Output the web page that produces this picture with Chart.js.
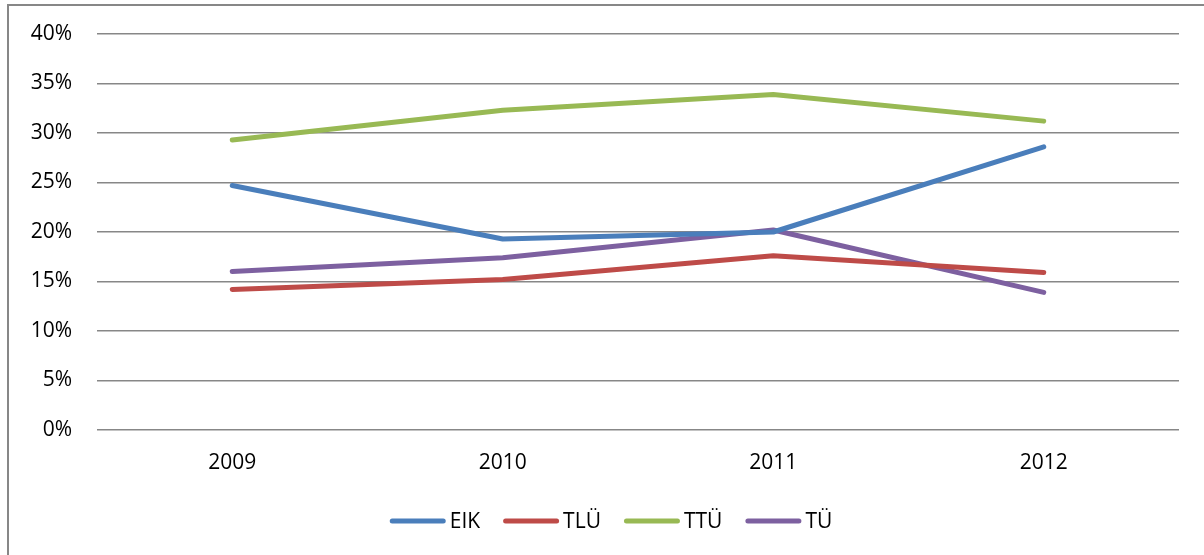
<!DOCTYPE html>
<html>
<head>
<meta charset="utf-8">
<script src="https://cdn.jsdelivr.net/npm/chart.js@4/dist/chart.umd.min.js"></script>
<style>
  html, body { margin: 0; padding: 0; background: #fff; }
  #wrap { width: 1204px; height: 555px; position: relative; }
</style>
</head>
<body>
<div id="wrap"><canvas id="chart"></canvas></div>
<script>
const years = ["2009", "2010", "2011", "2012"];
const eik = [24.7, 19.3, 20.0, 28.6];
const tlu = [14.2, 15.2, 17.6, 15.9];
const ttu = [29.3, 32.3, 33.9, 31.2];
const tu = [16.0, 17.4, 20.2, 13.9];
const seriesNames = ["EIK", "TLÜ", "TTÜ", "TÜ"];
const seriesColors = ["#4a7ebb", "#be4b48", "#98b954", "#7d60a0"];

const FONT = "'Open Sans', sans-serif";
const TEXT = "#000";

function line(i, values) {
  return {
    label: seriesNames[i],
    data: values,
    borderColor: seriesColors[i],
    backgroundColor: seriesColors[i],
    borderWidth: 5,
    borderCapStyle: "round",
    borderJoinStyle: "round",
    fill: false,
    tension: 0,
    pointRadius: 0,
    pointHoverRadius: 0
  };
}

// frame round the chart (right and bottom edges fall outside the window)
const framePlugin = {
  id: "frame",
  beforeDraw(chart) {
    const c = chart.ctx;
    c.save();
    c.fillStyle = "#fff";
    c.fillRect(0, 0, chart.width, chart.height);
    c.strokeStyle = "#878787";
    c.lineWidth = 2;
    c.strokeRect(8, 5, 1300, 1000);
    c.restore();
  }
};

// legend drawn by hand so the line samples sit close to their text
const legendPlugin = {
  id: "lineLegend",
  afterDraw(chart) {
    const c = chart.ctx;
    const sample = 56, gap = 4, itemGap = 23, y = 521, center = 611;
    c.save();
    c.font = "21px " + FONT;
    c.textBaseline = "middle";
    const items = chart.data.datasets.map(ds => ({
      ds, w: sample + gap + c.measureText(ds.label).width
    }));
    const total = items.reduce((s, it) => s + it.w, 0) + itemGap * (items.length - 1);
    let x = center - total / 2;
    items.forEach(it => {
      c.strokeStyle = it.ds.borderColor;
      c.lineWidth = 5;
      c.lineCap = "round";
      c.beginPath();
      c.moveTo(x + 2.5, y);
      c.lineTo(x + sample - 2.5, y);
      c.stroke();
      c.fillStyle = TEXT;
      c.fillText(it.ds.label, x + sample + gap, y + 1);
      x += it.w + itemGap;
    });
    c.restore();
  }
};

new Chart(document.getElementById("chart"), {
  type: "line",
  data: {
    labels: years,
    datasets: [line(0, eik), line(1, tlu), line(2, ttu), line(3, tu)]
  },
  plugins: [framePlugin, legendPlugin],
  options: {
    responsive: true,
    maintainAspectRatio: false,
    animation: false,
    layout: { padding: { left: 0, top: 34, right: 25, bottom: 0 } },
    scales: {
      x: {
        offset: true,
        grid: { display: false, drawTicks: false },
        border: { display: false },
        ticks: { color: TEXT, padding: 20, font: { family: FONT, size: 21 } },
        afterFit: (s) => { s.height = 125; }
      },
      y: {
        min: 0,
        max: 40,
        grid: { color: "#878787", lineWidth: 1.5, drawTicks: false },
        border: { display: false },
        ticks: {
          stepSize: 5,
          color: TEXT,
          padding: 25,
          font: { family: FONT, size: 21 },
          callback: (v) => v + "%"
        },
        afterFit: (s) => {
          s.width = 97;
          s.paddingTop = 0;
          s.paddingBottom = 0;
        }
      }
    },
    plugins: {
      legend: { display: false },
      tooltip: { enabled: false }
    }
  }
});
</script>
</body>
</html>
